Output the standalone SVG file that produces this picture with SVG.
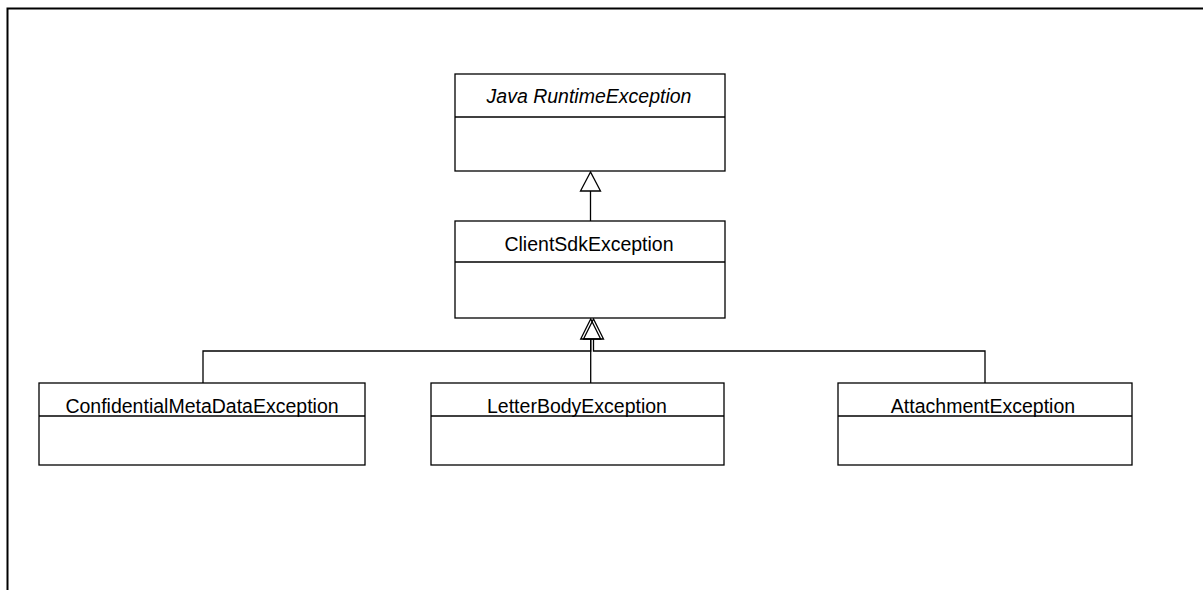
<svg xmlns="http://www.w3.org/2000/svg" width="1203" height="590" viewBox="0 0 1203 590">
<style>
.box{fill:#fff;stroke:#000;stroke-width:1.3}
.div{stroke:#000;stroke-width:1.3}
.t{font-family:"Liberation Sans",Arial,sans-serif;font-size:19.5px;fill:#000;text-anchor:middle}
.i{font-style:italic}
.c{fill:none;stroke:#000;stroke-width:1.3}
.h{fill:#fff;stroke:#000;stroke-width:1.3}
</style>
<rect width="1203" height="590" fill="#fff"/>
<path d="M7.5,590 V8.5 H1203" fill="none" stroke="#000" stroke-width="2"/>
<g id="connectors">
<path class="c" d="M590.5,221 V191"/>
<polygon class="h" points="590.5,172 580.5,191 600.5,191"/>
<path class="c" d="M203,383 V351 H590.7 V339"/>
<path class="c" d="M590.7,383 V339"/>
<path class="c" d="M985,383 V351 H593.5 V339"/>
<polygon class="c" points="590.7,319 580.7,339 600.7,339"/>
<polygon class="c" points="593.5,319 583.5,339 603.5,339"/>
</g>
<g id="java-runtime-exception">
<rect class="box" x="455" y="74" width="270" height="97"/>
<line class="div" x1="455" y1="117" x2="725" y2="117"/>
<text class="t i" x="589" y="103">Java RuntimeException</text>
</g>
<g id="client-sdk-exception">
<rect class="box" x="455" y="221" width="270" height="97"/>
<line class="div" x1="455" y1="262" x2="725" y2="262"/>
<text class="t" x="589" y="251">ClientSdkException</text>
</g>
<g id="confidential-meta-data-exception">
<rect class="box" x="39" y="383" width="326" height="82"/>
<line class="div" x1="39" y1="416" x2="365" y2="416"/>
<text class="t" x="202" y="413">ConfidentialMetaDataException</text>
</g>
<g id="letter-body-exception">
<rect class="box" x="431" y="383" width="293" height="82"/>
<line class="div" x1="431" y1="416" x2="724" y2="416"/>
<text class="t" x="577" y="413">LetterBodyException</text>
</g>
<g id="attachment-exception">
<rect class="box" x="838" y="383" width="294" height="82"/>
<line class="div" x1="838" y1="416" x2="1132" y2="416"/>
<text class="t" x="983" y="413">AttachmentException</text>
</g>
</svg>
